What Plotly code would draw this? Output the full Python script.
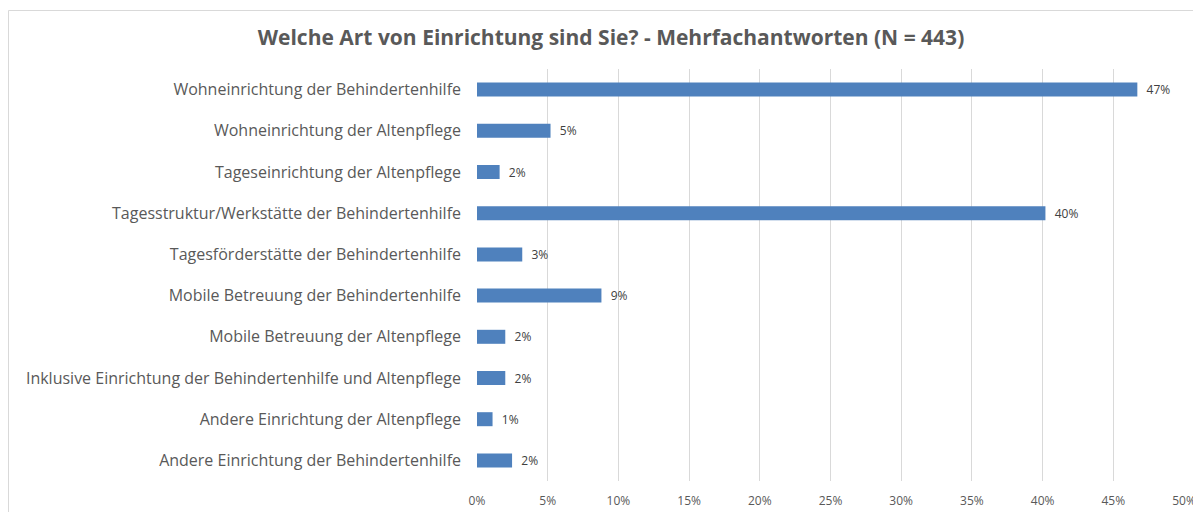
import plotly.graph_objects as go

categories = [
    "Wohneinrichtung der Behindertenhilfe",
    "Wohneinrichtung der Altenpflege",
    "Tageseinrichtung der Altenpflege",
    "Tagesstruktur/Werkstätte der Behindertenhilfe",
    "Tagesförderstätte der Behindertenhilfe",
    "Mobile Betreuung der Behindertenhilfe",
    "Mobile Betreuung der Altenpflege",
    "Inklusive Einrichtung der Behindertenhilfe und Altenpflege",
    "Andere Einrichtung der Altenpflege",
    "Andere Einrichtung der Behindertenhilfe",
]
shares = [0.467, 0.052, 0.016, 0.402, 0.032, 0.088, 0.020, 0.020, 0.011, 0.0248]
tick_values = [0, 0.05, 0.10, 0.15, 0.20, 0.25, 0.30, 0.35, 0.40, 0.45, 0.50]
tick_labels = ["0%", "5%", "10%", "15%", "20%", "25%", "30%", "35%", "40%", "45%", "50%"]

FONT = "Open Sans"
GRAY = "#595959"

# the page body adds an 8px offset, so the figure is sized to the visible area
W, H = 1193, 504
ML, MR, MT, MB = 469, 17, 61, 31
PW, PH = W - ML - MR, H - MT - MB

fig = go.Figure(
    go.Bar(
        x=shares,
        y=categories,
        orientation="h",
        marker=dict(color="#4F81BD", line=dict(width=0)),
        texttemplate="\u00a0\u00a0%{x:.0%}",
        textposition="outside",
        constraintext="none",
        textfont=dict(family=FONT, size=12, color="#404040"),
        cliponaxis=False,
        hoverinfo="skip",
    )
)

fig.update_layout(
    width=W,
    height=H,
    paper_bgcolor="white",
    plot_bgcolor="white",
    margin=dict(l=ML, r=MR, t=MT, b=MB, autoexpand=False),
    bargap=0.66,
    showlegend=False,
    title=dict(
        text="<b>Welche Art von Einrichtung sind Sie? - Mehrfachantworten (N = 443)</b>",
        x=(611 - 8) / W,
        xref="container",
        xanchor="center",
        y=1 - 30 / H,
        yref="container",
        yanchor="middle",
        font=dict(family=FONT, size=21, color=GRAY),
    ),
    xaxis=dict(
        range=[0, 0.5],
        tickvals=tick_values,
        ticktext=tick_labels,
        showgrid=True,
        gridcolor="#d9d9d9",
        gridwidth=1,
        zeroline=False,
        showline=False,
        ticks="",
        automargin=False,
        ticklabelstandoff=11,
        tickfont=dict(family=FONT, size=12, color=GRAY),
        fixedrange=True,
    ),
    yaxis=dict(
        autorange="reversed",
        showgrid=False,
        zeroline=False,
        showline=False,
        ticks="",
        automargin=False,
        ticklabelstandoff=15,
        tickfont=dict(family=FONT, size=16, color=GRAY),
        fixedrange=True,
    ),
    shapes=[
        dict(type="line", xref="paper", yref="paper",
             x0=(0.5 - ML) / PW, x1=(W - ML) / PW,
             y0=1 + (MT - 2.5) / PH, y1=1 + (MT - 2.5) / PH,
             line=dict(color="#d9d9d9", width=1)),
        dict(type="line", xref="paper", yref="paper",
             x0=(0.5 - ML) / PW, x1=(0.5 - ML) / PW,
             y0=1 + (MT - 2.5) / PH, y1=-MB / PH,
             line=dict(color="#d9d9d9", width=1)),
    ],
)

fig.write_html("out.html")
